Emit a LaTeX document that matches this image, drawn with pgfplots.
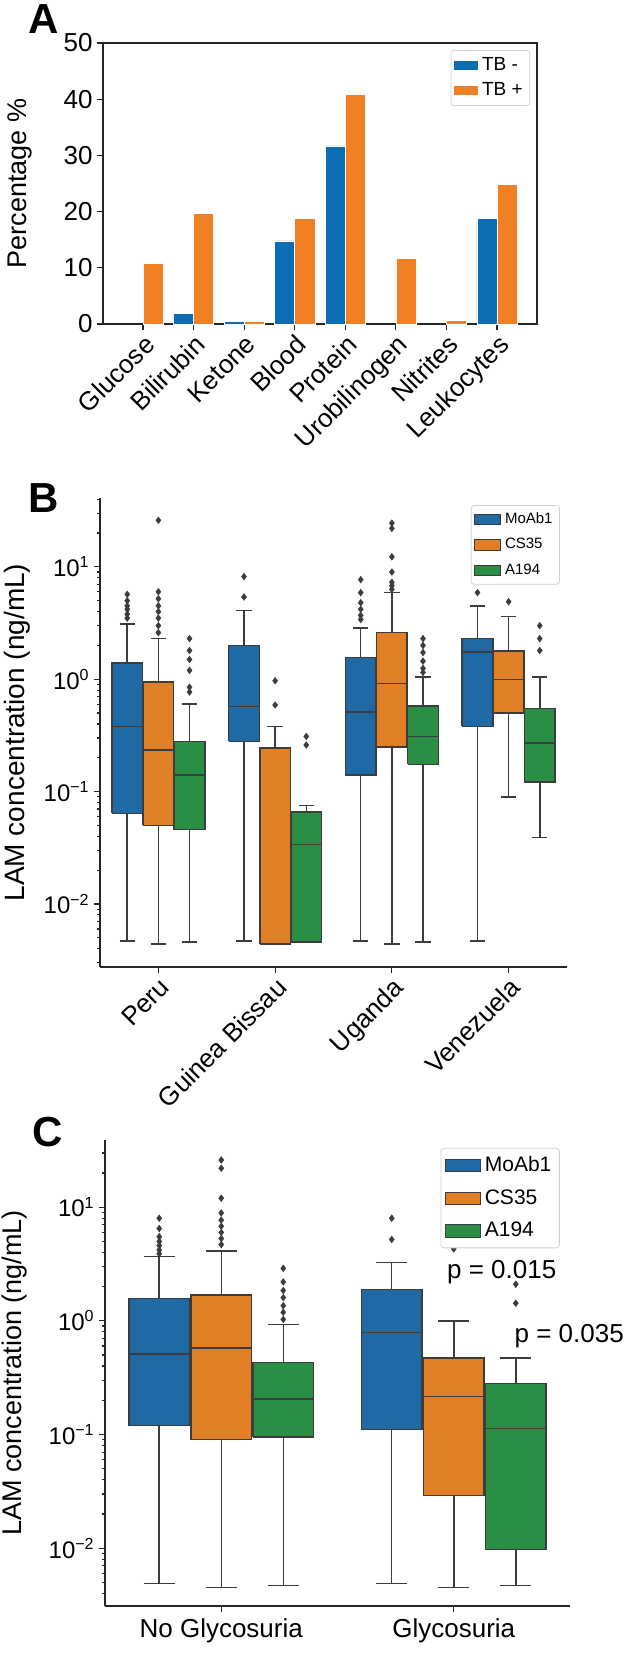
\documentclass[border=0pt]{standalone}
\usepackage{pgfplots}
\pgfplotsset{compat=1.18}
\usepackage{fontspec}
\setmainfont{Liberation Sans}
\definecolor{tbneg}{HTML}{0B6DB3}
\definecolor{tbpos}{HTML}{F17F24}
\definecolor{cblue}{HTML}{1F6AA5}
\definecolor{corange}{HTML}{E07F26}
\definecolor{cgreen}{HTML}{2A8F45}
\definecolor{edge}{HTML}{3C3C3C}
\definecolor{spine}{HTML}{262626}
\definecolor{legframe}{HTML}{D0D0D0}
\newcommand{\fs}[1]{\fontsize{#1}{#1}\selectfont}
% box: #1 colour, #2 position, #3 lower whisker, #4 lower quartile, #5 median, #6 upper quartile, #7 upper whisker, #8 outliers
\newcommand{\bxp}[8]{%
  \pgfmathsetmacro\xl{#2-0.131}\pgfmathsetmacro\xr{#2+0.131}%
  \pgfmathsetmacro\wl{#2-0.066}\pgfmathsetmacro\wr{#2+0.066}%
  \addplot[draw=edge, line width=0.75pt, forget plot] coordinates {(#2,#3) (#2,#4)};
  \addplot[draw=edge, line width=0.75pt, forget plot] coordinates {(#2,#6) (#2,#7)};
  \addplot[draw=edge, line width=0.75pt, forget plot] coordinates {(\wl,#3) (\wr,#3)};
  \addplot[draw=edge, line width=0.75pt, forget plot] coordinates {(\wl,#7) (\wr,#7)};
  \addplot[fill=#1, draw=edge, line width=0.75pt, forget plot] coordinates {(\xl,#4) (\xr,#4) (\xr,#6) (\xl,#6) (\xl,#4)};
  \addplot[draw=edge, line width=0.75pt, forget plot] coordinates {(\xl,#5) (\xr,#5)};
  \addplot[only marks, mark=diamond*, mark size=1.7pt, mark options={fill=edge, draw=edge, line width=0.2pt}, forget plot]
    table[row sep=\\, x expr=#2, y index=0] {#8};
}
\pgfplotsset{
  boxlegend/.style n args={2}{legend image code/.code={\draw[##1, draw=edge, line width=0.4pt, sharp corners] (0pt,-#2) rectangle (#1,#2);}},
  logaxis/.style={
    scale only axis,
    axis x line*=bottom, axis y line*=left,
    x axis line style={-}, y axis line style={-},
    axis line style={draw=spine, line width=0.6pt},
    tick style={draw=spine, line width=0.6pt},
    tick align=outside, major tick length=3pt, minor tick length=1.6pt,
    ytick={0.01,0.1,1,10},
    yticklabels={10\textsuperscript{−2},10\textsuperscript{−1},10\textsuperscript{0},10\textsuperscript{1}},
    minor ytick={0.002,0.003,0.004,0.005,0.006,0.007,0.008,0.009,0.02,0.03,0.04,0.05,0.06,0.07,0.08,0.09,0.2,0.3,0.4,0.5,0.6,0.7,0.8,0.9,2,3,4,5,6,7,8,9,20,30,40},
    yticklabel style={font=\fs{12}, inner sep=2pt},
    ylabel={LAM concentration (ng/mL)},
  },
}
\begin{document}
\begin{tikzpicture}
\useasboundingbox (0,0) rectangle (312.5pt,-826.5pt);
\node[anchor=north west, inner sep=0pt, font=\fs{21}\bfseries] at (14pt,-2pt) {A};
\node[anchor=north west, inner sep=0pt, font=\fs{21}\bfseries] at (14pt,-241.5pt) {B};
\node[anchor=north west, inner sep=0pt, font=\fs{21}\bfseries] at (16pt,-558.5pt) {C};

% ---------------- Panel A ----------------
\begin{axis}[
  at={(51.5pt,-162pt)}, anchor=south west,
  width=217pt, height=140.5pt, scale only axis,
  xmin=-0.79, xmax=7.79, ymin=0, ymax=50,
  xtick={0,...,7},
  xticklabels={Glucose,Bilirubin,Ketone,Blood,Protein,Urobilinogen,Nitrites,Leukocytes},
  ytick={0,10,20,30,40,50},
  tick pos=left, tick align=outside, major tick length=3pt,
  axis line style={draw=spine, line width=0.6pt},
  tick style={draw=spine, line width=0.6pt},
  /pgf/number format/assume math mode=true,
  xticklabel style={rotate=45, anchor=north east, inner sep=1pt, font=\fs{13}},
  yticklabel style={font=\fs{13}, inner sep=2pt},
  ylabel={Percentage \%},
  ylabel style={font=\fs{13.5}, at={(axis description cs:-0.191,0.5)}, anchor=center},
  legend style={at={(axis description cs:0.984,0.975)}, anchor=north east, draw=legframe,
    rounded corners=1.5pt, font=\fs{9.5}, inner sep=1.5pt, row sep=0.5pt, cells={anchor=west}},
  legend image code/.code={\draw[#1, draw=none, sharp corners] (0pt,-2.2pt) rectangle (12pt,2.2pt);},
]
\addplot[ybar, bar width=0.4, bar shift=-0.2, fill=tbneg, draw=white, line width=0.3pt]
  coordinates {(1,1.9) (2,0.5) (3,14.8) (4,31.7) (7,18.8)};
\addlegendentry{TB -}
\addplot[ybar, bar width=0.4, bar shift=0.2, fill=tbpos, draw=white, line width=0.3pt]
  coordinates {(0,10.8) (1,19.7) (2,0.5) (3,18.8) (4,40.9) (5,11.7) (6,0.65) (7,24.8)};
\addlegendentry{TB +}
\end{axis}

% ---------------- Panel B ----------------
\begin{axis}[
  ymode=log,
  logaxis,
  at={(50pt,-483.5pt)}, anchor=south west,
  width=233.5pt, height=234.5pt,
  xmin=-0.5, xmax=3.5, ymin=0.00275, ymax=41,
  xtick={0,1,2,3}, xticklabels={Peru,Guinea Bissau,Uganda,Venezuela},
  xticklabel style={rotate=45, anchor=north east, inner sep=1pt, font=\fs{13}},
  ylabel style={font=\fs{14}, at={(axis description cs:-0.178,0.5)}, anchor=center},
  legend style={at={(axis description cs:0.985,0.985)}, anchor=north east, draw=legframe,
    rounded corners=1.5pt, font=\fs{7.5}, inner sep=1.5pt, row sep=2pt, cells={anchor=west}},
]
\addlegendimage{boxlegend={13pt}{2.6pt}, fill=cblue}\addlegendentry{MoAb1}
\addlegendimage{boxlegend={13pt}{2.6pt}, fill=corange}\addlegendentry{CS35}
\addlegendimage{boxlegend={13pt}{2.6pt}, fill=cgreen}\addlegendentry{A194}
% Peru
\bxp{cblue}{-0.2667}{0.0047}{0.064}{0.38}{1.39}{3.1}{5.7\\5.0\\4.5\\4.2\\3.8\\3.5\\}
\bxp{corange}{0}{0.0044}{0.05}{0.235}{0.95}{2.3}{26\\6.0\\5.2\\4.5\\4.0\\3.5\\3.0\\2.6\\}
\bxp{cgreen}{0.2667}{0.0046}{0.046}{0.14}{0.28}{0.6}{2.3\\1.8\\1.5\\1.2\\0.85\\0.77\\}
% Guinea Bissau
\bxp{cblue}{0.7333}{0.0047}{0.28}{0.57}{2.0}{4.1}{8.2\\5.4\\}
\bxp{corange}{1}{0.0044}{0.0044}{0.0044}{0.245}{0.38}{0.97\\0.59\\}
\bxp{cgreen}{1.2667}{0.0046}{0.0046}{0.034}{0.066}{0.075}{0.31\\0.26\\}
% Uganda
\bxp{cblue}{1.7333}{0.0047}{0.14}{0.51}{1.56}{2.85}{7.7\\5.9\\4.8\\4.2\\3.7\\3.4\\}
\bxp{corange}{2}{0.0044}{0.25}{0.92}{2.6}{5.9}{24.5\\22\\12.3\\9.0\\7.3\\6.8\\6.3\\}
\bxp{cgreen}{2.2667}{0.0046}{0.175}{0.31}{0.58}{1.05}{2.3\\2.0\\1.73\\1.45\\1.25\\1.15\\}
% Venezuela
\bxp{cblue}{2.7333}{0.0047}{0.38}{1.75}{2.3}{4.5}{5.9\\}
\bxp{corange}{3}{0.09}{0.5}{1.0}{1.78}{3.6}{4.9\\}
\bxp{cgreen}{3.2667}{0.039}{0.122}{0.27}{0.55}{1.05}{3.0\\2.3\\1.8\\}
\end{axis}

% ---------------- Panel C ----------------
\begin{axis}[
  ymode=log,
  logaxis,
  at={(52.5pt,-803pt)}, anchor=south west,
  width=232.5pt, height=233pt,
  xmin=-0.5, xmax=1.5, ymin=0.0031, ymax=39,
  xtick={0,1}, xticklabels={No Glycosuria,Glycosuria},
  xticklabel style={font=\fs{13}, inner sep=3pt},
  ylabel style={font=\fs{13.5}, at={(axis description cs:-0.194,0.5)}, anchor=center},
  legend style={at={(axis description cs:0.978,0.983)}, anchor=north east, draw=legframe,
    rounded corners=1.5pt, font=\fs{10.5}, inner sep=2pt, row sep=3.5pt, cells={anchor=west}},
  clip=false,
]
\addlegendimage{boxlegend={17.5pt}{3.2pt}, fill=cblue}\addlegendentry{MoAb1}
\addlegendimage{boxlegend={17.5pt}{3.2pt}, fill=corange}\addlegendentry{CS35}
\addlegendimage{boxlegend={17.5pt}{3.2pt}, fill=cgreen}\addlegendentry{A194}
% No Glycosuria
\bxp{cblue}{-0.2667}{0.0049}{0.12}{0.51}{1.58}{3.7}{8.0\\6.5\\5.5\\5.0\\4.6\\4.2\\3.9\\}
\bxp{corange}{0}{0.0045}{0.09}{0.575}{1.69}{4.1}{26\\22\\12\\8.9\\7.7\\6.8\\6.0\\5.3\\4.7\\}
\bxp{cgreen}{0.2667}{0.0047}{0.095}{0.205}{0.43}{0.93}{2.9\\2.2\\1.85\\1.6\\1.36\\1.19\\1.03\\}
% Glycosuria
\bxp{cblue}{0.7333}{0.0049}{0.111}{0.79}{1.89}{3.26}{8.0\\5.2\\}
\bxp{corange}{1}{0.0045}{0.029}{0.215}{0.47}{1.0}{4.3\\}
\bxp{cgreen}{1.2667}{0.0047}{0.0097}{0.113}{0.28}{0.47}{2.1\\1.43\\}
\node[anchor=base west, inner sep=0pt, font=\fs{13}] at (axis cs:0.97,2.35) {p = 0.015};
\node[anchor=base west, inner sep=0pt, font=\fs{13}] at (axis cs:1.26,0.64) {p = 0.035};
\end{axis}
\end{tikzpicture}
\end{document}
